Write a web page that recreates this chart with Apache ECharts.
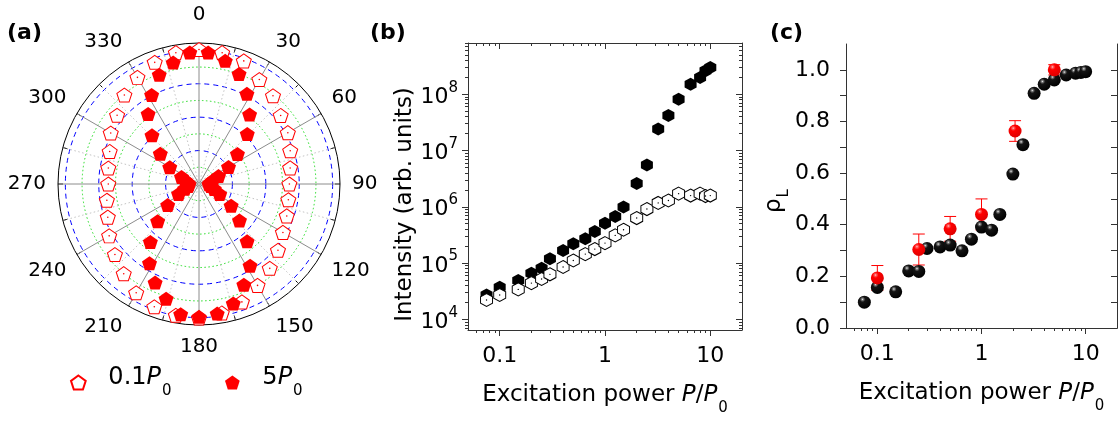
<!DOCTYPE html>
<html><head><meta charset="utf-8">
<script src="https://cdn.jsdelivr.net/npm/echarts@6/dist/echarts.min.js"></script>
<style>html,body{margin:0;padding:0;background:#fff}#c{width:1118px;height:423px}</style>
</head><body><div id="c"></div>
<script>
// ---------- (a) polar data ----------
const anglesLow = [0,10,20,30,40,50,60,70,80,90,100,110,120,130,140,150,160,170,180,190,200,210,220,230,240,250,260,270,280,290,300,310,320,330,340,350];
const radiiLow = [0.805,0.798,0.784,0.722,0.689,0.638,0.614,0.581,0.554,0.541,0.543,0.559,0.580,0.617,0.659,0.701,0.751,0.784,0.802,0.798,0.782,0.752,0.701,0.657,0.621,0.581,0.560,0.543,0.551,0.569,0.610,0.640,0.695,0.737,0.775,0.798];
const anglesHigh = [4,12,20,28,36,44,52,60,68,76,84,92,100,108,116,124,132,140,148,156,164,172,180,188,196,204,212,220,228,236,244,252,260,268,276,284,292,300,308,316,324,332,340,348,356];
const radiiHigh = [0.789,0.754,0.701,0.611,0.515,0.416,0.292,0.204,0.126,0.084,0.066,0.060,0.072,0.096,0.138,0.232,0.326,0.448,0.577,0.660,0.744,0.783,0.795,0.787,0.714,0.646,0.559,0.453,0.333,0.226,0.136,0.090,0.066,0.060,0.066,0.084,0.113,0.202,0.294,0.405,0.518,0.604,0.696,0.743,0.789];

// ---------- (b) intensity vs power ----------
const power = [0.075,0.1,0.15,0.2,0.25,0.3,0.4,0.5,0.65,0.8,1.0,1.25,1.5,2.0,2.5,3.2,4.0,5.0,6.5,8.0,9.0,10];
const intensityHigh = [2.7e4,3.7e4,4.9e4,6.6e4,8.1e4,1.19e5,1.67e5,2.2e5,2.7e5,3.64e5,5.1e5,6.7e5,9.9e5,2.58e6,5.5e6,2.4e7,4.2e7,8.1e7,1.5e8,1.98e8,2.6e8,2.98e8];
const intensityLow = [2.2e4,2.7e4,3.4e4,4.4e4,5.2e4,6.3e4,8.5e4,1.11e5,1.44e5,1.77e5,2.26e5,3.1e5,3.9e5,6.3e5,9.1e5,1.17e6,1.29e6,1.71e6,1.58e6,1.71e6,1.55e6,1.58e6];
const yMajorB = [1e4,1e5,1e6,1e7,1e8];
const xMajor = [0.1,1,10];

// ---------- (c) polarization degree ----------
const rho = [0.10,0.157,0.14,0.221,0.219,0.308,0.314,0.321,0.299,0.344,0.391,0.379,0.44,0.596,0.71,0.909,0.944,0.961,0.98,0.987,0.99,0.993];
const redPower = [0.1,0.25,0.5,1.0,2.1,5.0];
const redRho = [0.194,0.304,0.384,0.44,0.763,1.0];
const redErr = [0.048,0.06,0.048,0.06,0.04,0.02];
const yMajorC = [0,0.2,0.4,0.6,0.8,1.0];
const yMinorC = [0.1,0.3,0.5,0.7,0.9];

const FONT = '"DejaVu Sans", sans-serif';
const AX = '#333';

function minorLog(lo, hi) {
  const out = [];
  for (let d = -3; d <= 10; d++) for (let m = 2; m <= 9; m++) {
    const v = +(m * Math.pow(10, d)).toPrecision(6);
    if (v > lo && v < hi) out.push(v);
  }
  return out;
}
const xMinor = minorLog(0.05, 20);
const yMinorB = minorLog(6457, 8.13e8);

const pentagon = 'path://M0,-1 L0.951,-0.309 L0.588,0.809 L-0.588,0.809 L-0.951,-0.309 Z';
const hexagon = 'path://M0,-1 L0.866,-0.5 L0.866,0.5 L0,1 L-0.866,0.5 L-0.866,-0.5 Z';

function subRich(size, sub, drop) {
  return {
    n: {fontSize: size, fontFamily: FONT, color: '#000', verticalAlign: 'top'},
    i: {fontSize: size, fontFamily: FONT, color: '#000', fontStyle: 'italic', verticalAlign: 'top'},
    s: {fontSize: sub, fontFamily: FONT, color: '#000', verticalAlign: 'top', padding: [drop, 0, 0, 1]}
  };
}

function logLabel(v) { return String(+(+v).toPrecision(3)); }

function xAxes(grid) {
  const base = {type: 'log', gridIndex: grid, min: 0.05, max: 20, splitLine: {show: false}};
  const line = {show: true, lineStyle: {color: AX, width: 1}};
  return [
    Object.assign({}, base, {position: 'bottom', axisLine: line,
      axisTick: {show: true, inside: false, length: 6, customValues: xMajor, lineStyle: {color: AX}},
      axisLabel: {show: true, customValues: xMajor, formatter: logLabel, margin: 15, fontSize: 22, fontFamily: FONT, color: '#000'},
      name: '{n|Excitation power }{i|P}{n|/}{i|P}{s|0}', nameLocation: 'middle', nameGap: 54,
      nameTextStyle: {rich: subRich(23, 15, 17)}}),
    Object.assign({}, base, {position: 'bottom', axisLine: {show: false},
      axisTick: {show: true, inside: false, length: 3, customValues: xMinor, lineStyle: {color: AX}},
      axisLabel: {show: false}}),
    Object.assign({}, base, {position: 'top', axisLine: line,
      axisTick: {show: true, inside: true, length: 6, customValues: xMajor, lineStyle: {color: AX}},
      axisLabel: {show: false}}),
    Object.assign({}, base, {position: 'top', axisLine: {show: false},
      axisTick: {show: true, inside: true, length: 3, customValues: xMinor, lineStyle: {color: AX}},
      axisLabel: {show: false}})
  ];
}

function yAxes(grid, cfg) {
  const line = {show: true, lineStyle: {color: AX, width: 1}};
  const base = Object.assign({gridIndex: grid, splitLine: {show: false}}, cfg.base);
  return [
    Object.assign({}, base, {position: 'left', axisLine: line,
      axisTick: {show: true, inside: false, length: 6, customValues: cfg.major, lineStyle: {color: AX}},
      axisLabel: Object.assign({show: true, customValues: cfg.major, fontFamily: FONT, color: '#000'}, cfg.label),
      name: cfg.name, nameLocation: 'middle', nameGap: cfg.nameGap,
      nameTextStyle: cfg.nameStyle}),
    Object.assign({}, base, {position: 'left', axisLine: {show: false},
      axisTick: {show: true, inside: false, length: cfg.minorLen, customValues: cfg.minor, lineStyle: {color: AX}},
      axisLabel: {show: false}}),
    Object.assign({}, base, {position: 'right', axisLine: line,
      axisTick: {show: true, inside: true, length: 6, customValues: cfg.major, lineStyle: {color: AX}},
      axisLabel: {show: false}}),
    Object.assign({}, base, {position: 'right', axisLine: {show: false},
      axisTick: {show: true, inside: true, length: cfg.minorLen, customValues: cfg.minor, lineStyle: {color: AX}},
      axisLabel: {show: false}})
  ];
}

const yB = yAxes(0, {
  base: {type: 'log', min: 6457, max: 8.13e8},
  major: yMajorB, minor: yMinorB, minorLen: 3,
  label: {margin: 10, formatter: v => '{b|10}{p|' + Math.round(Math.log10(v)) + '}',
    rich: {b: {fontSize: 22, fontFamily: FONT, color: '#000', verticalAlign: 'top', padding: [6, 0, 0, 0]},
           p: {fontSize: 15, fontFamily: FONT, color: '#000', verticalAlign: 'top'}}},
  name: 'Intensity (arb. units)', nameGap: 50,
  nameStyle: {fontSize: 23, fontFamily: FONT, color: '#000', padding: [0, 36, 0, 0]}
});
const yC = yAxes(1, {
  base: {type: 'value', min: 0, max: 1.1},
  major: yMajorC, minor: yMinorC, minorLen: 6,
  label: {margin: 16, fontSize: 22, formatter: v => (+v).toFixed(1)},
  name: '{r|ρ}{l|L}', nameGap: 54,
  nameStyle: {padding: [0, 30, 0, 0], rich: {
    r: {fontSize: 23, fontFamily: FONT, color: '#000', verticalAlign: 'top'},
    l: {fontSize: 15, fontFamily: FONT, color: '#000', verticalAlign: 'top', padding: [14, 0, 0, 1]}}}
});

const blackBall = {type: 'radial', x: 0.36, y: 0.28, r: 0.75, colorStops: [
  {offset: 0, color: '#f0f0f0'}, {offset: 0.1, color: '#808080'}, {offset: 0.28, color: '#141414'}, {offset: 1, color: '#000'}]};
const redBall = {type: 'radial', x: 0.36, y: 0.28, r: 0.75, colorStops: [
  {offset: 0, color: '#ffd0d0'}, {offset: 0.1, color: '#ff6060'}, {offset: 0.3, color: '#ff0000'}, {offset: 1, color: '#dd0000'}]};

const titleStyle = {fontSize: 22, fontWeight: 'bold', fontFamily: FONT, color: '#000'};
const legendCommon = {
  top: 366, orient: 'horizontal', itemWidth: 50, itemHeight: 14, symbolKeepAspect: true,
  padding: 0,
  formatter: n => n === '0.1P0' ? '{n|0.1}{i|P}{s|0}' : '{n|5}{i|P}{s|0}',
  textStyle: {rich: subRich(24, 15, 18)}
};

const option = {
  animation: false,
  backgroundColor: '#fff',
  title: [
    {text: '(a)', left: 7, top: 22, padding: 0, textStyle: titleStyle},
    {text: '(b)', left: 370, top: 22, padding: 0, textStyle: titleStyle},
    {text: '(c)', left: 770, top: 22, padding: 0, textStyle: titleStyle}
  ],
  polar: [
    {center: [199, 184], radius: 141},
    {center: [199, 184], radius: 141}
  ],
  angleAxis: [
    {polarIndex: 0, type: 'value', min: 0, max: 360, interval: 30, startAngle: 90, clockwise: true,
      axisLine: {show: true, lineStyle: {color: '#000', width: 1}},
      axisTick: {show: true, inside: true, length: 5, lineStyle: {color: '#000'}},
      axisLabel: {show: true, margin: 12, fontSize: 20, fontFamily: FONT, color: '#000',
        formatter: v => (+v === 0 ? '{t|0}' : String(v)),
        rich: {t: {fontSize: 20, fontFamily: FONT, color: '#000', padding: [0, 0, 6, 0]}}},
      splitLine: {show: true, lineStyle: {color: '#8c8c8c', width: 1}}},
    {polarIndex: 1, type: 'value', min: 0, max: 360, startAngle: 90, clockwise: true,
      axisLine: {show: false},
      axisTick: {show: true, inside: true, length: 5, customValues: [15,45,75,105,135,165,195,225,255,285,315,345], lineStyle: {color: '#000'}},
      axisLabel: {show: false},
      splitLine: {show: true, lineStyle: {color: '#c4c4c4', width: 1, type: [1.5, 2.5]}}}
  ],
  radiusAxis: [
    {polarIndex: 0, type: 'value', min: 0, max: 0.844,
      axisLine: {show: false}, axisLabel: {show: false},
      axisTick: {show: false, customValues: [0.2, 0.4, 0.6, 0.8]},
      splitLine: {show: true, lineStyle: {color: '#0000ff', width: 1, type: [5, 4]}}},
    {polarIndex: 1, type: 'value', min: 0, max: 0.844,
      axisLine: {show: false}, axisLabel: {show: false},
      axisTick: {show: false, customValues: [0.1, 0.3, 0.5, 0.7]},
      splitLine: {show: true, lineStyle: {color: '#22dd22', width: 1, type: [1.5, 2.5]}}}
  ],
  grid: [
    {left: 468, top: 43, width: 274, height: 287},
    {left: 846, top: 44, width: 271, height: 284}
  ],
  xAxis: xAxes(0).concat(xAxes(1)),
  yAxis: yB.concat(yC),
  legend: [
    Object.assign({}, legendCommon, {data: ['0.1P0'], left: 70}),
    Object.assign({}, legendCommon, {data: ['5P0'], left: 225})
  ],
  series: [
    {name: '0.1P0', type: 'scatter', coordinateSystem: 'polar', polarIndex: 0,
      symbol: pentagon, symbolSize: [15, 14],
      itemStyle: {color: '#fff', borderColor: '#ff0000', borderWidth: 1, opacity: 1},
      data: anglesLow.map((a, i) => [radiiLow[i], a])},
    {name: 'dotLow', type: 'scatter', coordinateSystem: 'polar', polarIndex: 0,
      symbol: 'circle', symbolSize: 1.6, itemStyle: {color: '#ff0000', opacity: 1},
      data: anglesLow.map((a, i) => [radiiLow[i], a])},
    {name: '5P0', type: 'scatter', coordinateSystem: 'polar', polarIndex: 0,
      symbol: pentagon, symbolSize: [15, 14],
      itemStyle: {color: '#ff0000', opacity: 1},
      data: anglesHigh.map((a, i) => [radiiHigh[i], a])},

    {name: 'bHigh', type: 'scatter', xAxisIndex: 0, yAxisIndex: 0,
      symbol: hexagon, symbolSize: [12, 13], itemStyle: {color: '#000', opacity: 1},
      data: power.map((p, i) => [p, intensityHigh[i]])},
    {name: 'bLow', type: 'scatter', xAxisIndex: 0, yAxisIndex: 0,
      symbol: hexagon, symbolSize: [12, 13], itemStyle: {color: '#fff', borderColor: '#000', borderWidth: 1, opacity: 1},
      data: power.map((p, i) => [p, intensityLow[i]])},
    {name: 'bLowDot', type: 'scatter', xAxisIndex: 0, yAxisIndex: 0,
      symbol: 'circle', symbolSize: 1.4, itemStyle: {color: '#000', opacity: 1},
      data: power.map((p, i) => [p, intensityLow[i]])},

    {name: 'cBlack', type: 'scatter', xAxisIndex: 4, yAxisIndex: 4,
      symbol: 'circle', symbolSize: 13, itemStyle: {color: blackBall, opacity: 1},
      data: power.map((p, i) => [p, rho[i]])},
    {name: 'cErr', type: 'custom', xAxisIndex: 4, yAxisIndex: 4,
      renderItem: (params, api) => {
        const x = api.value(0), lo = api.value(1), hi = api.value(2);
        const a = api.coord([x, lo]), b = api.coord([x, hi]);
        const cw = 6, st = {stroke: '#ff0000', lineWidth: 1};
        return {type: 'group', children: [
          {type: 'line', shape: {x1: a[0], y1: a[1], x2: b[0], y2: b[1]}, style: st},
          {type: 'line', shape: {x1: b[0] - cw, y1: b[1], x2: b[0] + cw, y2: b[1]}, style: st},
          {type: 'line', shape: {x1: a[0] - cw, y1: a[1], x2: a[0] + cw, y2: a[1]}, style: st}
        ]};
      },
      encode: {x: 0, y: [1, 2]},
      data: redPower.map((p, i) => [p, redRho[i] - redErr[i], redRho[i] + redErr[i]])},
    {name: 'cRed', type: 'scatter', xAxisIndex: 4, yAxisIndex: 4,
      symbol: 'circle', symbolSize: 13, itemStyle: {color: redBall, opacity: 1},
      data: redPower.map((p, i) => [p, redRho[i]])}
  ]
};

const chart = echarts.init(document.getElementById('c'), null, {renderer: 'canvas'});
chart.setOption(option);
</script>
</body></html>
